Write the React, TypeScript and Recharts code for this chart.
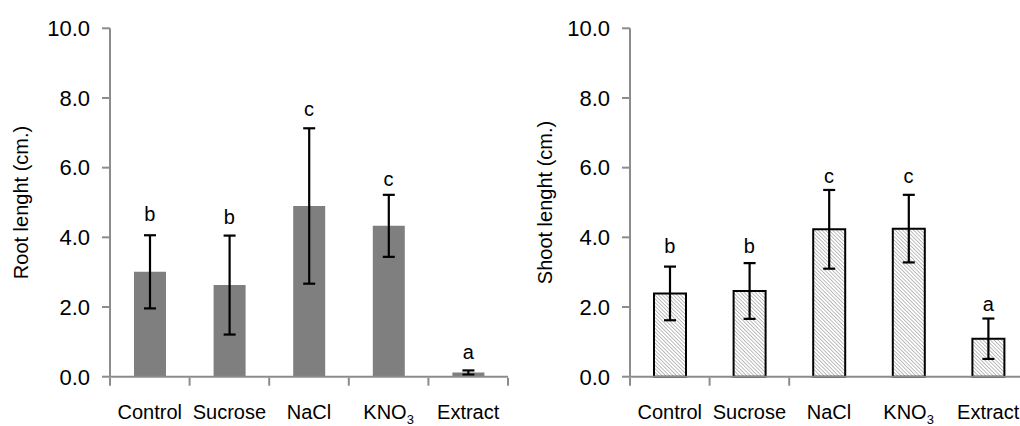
import React from 'react';
import { ComposedChart, Bar, Line, XAxis, YAxis, ErrorBar, LabelList } from 'recharts';

const categories = ['Control', 'Sucrose', 'NaCl', 'KNO3', 'Extract'];
const rootMean = [3.01, 2.63, 4.9, 4.33, 0.12];
const rootErr = [1.05, 1.42, 2.23, 0.89, 0.06];
const rootLetters = ['b', 'b', 'c', 'c', 'a'];
const rootLetterPos = [4.48, 4.37, 7.49, 5.46, 0.5];
const shootMean = [2.39, 2.46, 4.23, 4.25, 1.09];
const shootErr = [0.77, 0.8, 1.13, 0.97, 0.58];
const shootLetters = ['b', 'b', 'c', 'c', 'a'];
const shootLetterPos = [3.56, 3.56, 5.55, 5.55, 1.89];
const yTicks = [0, 2, 4, 6, 8, 10];
const leftEdgeTicks = [0, 1, 2, 3, 4, 5];
const rightEdgeTicks = [0, 1, 2];

const rootData = categories.map((c, i) => ({
  name: c,
  idx: i,
  mean: rootMean[i],
  err: rootErr[i],
  letter: rootLetters[i],
  pos: rootLetterPos[i],
}));
const shootData = categories.map((c, i) => ({
  name: c,
  idx: i,
  mean: shootMean[i],
  err: shootErr[i],
  letter: shootLetters[i],
  pos: shootLetterPos[i],
}));

const FONT = '"Liberation Sans", Arial, Helvetica, sans-serif';
const AXIS = '#8c8c8c';

function CatTick(props: any) {
  const { x, y, payload } = props;
  const v = String(payload.value);
  if (v === 'KNO3') {
    return (
      <text x={x} y={y} dy="0.71em" textAnchor="middle" fontSize={20} fontFamily={FONT} fill="#000">
        <tspan>KNO</tspan>
        <tspan fontSize={13} dy={5}>3</tspan>
      </text>
    );
  }
  return (
    <text x={x} y={y} dy="0.71em" textAnchor="middle" fontSize={20} fontFamily={FONT} fill="#000">
      {v}
    </text>
  );
}

function EmptyTick() {
  return <g />;
}

function Panel(props: {
  data: any[];
  width: number;
  yAxisWidth: number;
  labelOffset: number;
  label: string;
  edgeTicks: number[];
  hatched: boolean;
}) {
  const { data, width, yAxisWidth, labelOffset, label, edgeTicks, hatched } = props;
  return (
    <ComposedChart
      width={width}
      height={426}
      data={data}
      margin={{ top: 28.3, right: 2, bottom: 47.3, left: 0 }}
    >
      <defs>
        <pattern id="hatch" patternUnits="userSpaceOnUse" width={2.6} height={2.6} patternTransform="rotate(-45)">
          <rect x={0} y={0} width={2.6} height={2.6} fill="#fff" />
          <line x1={0} y1={0} x2={0} y2={2.6} stroke="#6e6e6e" strokeWidth={0.9} />
        </pattern>
      </defs>
      <XAxis
        dataKey="name"
        height={1}
        axisLine={{ stroke: AXIS, strokeWidth: 2 }}
        tickLine={false}
        tickSize={8}
        tickMargin={20}
        tick={<CatTick />}
        interval={0}
      />
      <XAxis
        xAxisId="edge"
        dataKey="idx"
        type="number"
        domain={[0, 5]}
        allowDataOverflow
        ticks={edgeTicks}
        interval={0}
        height={1}
        axisLine={false}
        tickLine={{ stroke: AXIS, strokeWidth: 2 }}
        tickSize={8}
        tick={<EmptyTick />}
      />
      <YAxis
        type="number"
        domain={[0, 10]}
        ticks={yTicks}
        width={yAxisWidth}
        axisLine={{ stroke: AXIS, strokeWidth: 2 }}
        tickLine={{ stroke: AXIS, strokeWidth: 2 }}
        tickSize={8}
        tickMargin={12}
        tickFormatter={(v: number) => v.toFixed(1)}
        tick={{ fontSize: 22, fontFamily: FONT, fill: '#000' }}
        label={{
          value: label,
          angle: -90,
          position: 'insideLeft',
          offset: labelOffset,
          style: { textAnchor: 'middle', fontSize: 20, fontFamily: FONT, fill: '#000' },
        }}
      />
      <Bar
        dataKey="mean"
        barSize={32}
        fill={hatched ? 'url(#hatch)' : '#7f7f7f'}
        stroke={hatched ? '#000' : 'none'}
        strokeWidth={hatched ? 2 : 0}
        isAnimationActive={false}
      >
        <ErrorBar dataKey="err" width={6} stroke="#000" strokeWidth={2.2} direction="y" />
      </Bar>
      <Line
        dataKey="pos"
        stroke="none"
        dot={false}
        activeDot={false}
        legendType="none"
        isAnimationActive={false}
      >
        <LabelList
          dataKey="letter"
          position="top"
          offset={0}
          fontSize={20}
          fontFamily={FONT}
          fill="#000"
        />
      </Line>
    </ComposedChart>
  );
}

export default function App() {
  return (
    <div
      style={{
        position: 'fixed',
        left: 0,
        top: 0,
        width: 1020,
        height: 426,
        overflow: 'hidden',
        background: '#fff',
      }}
    >
      <div style={{ position: 'absolute', left: 0, top: 0 }}>
        <Panel
          data={rootData}
          width={510}
          yAxisWidth={110}
          labelOffset={20.5}
          label="Root lenght (cm.)"
          edgeTicks={leftEdgeTicks}
          hatched={false}
        />
      </div>
      <div style={{ position: 'absolute', left: 510, top: 0 }}>
        <Panel
          data={shootData}
          width={520}
          yAxisWidth={120}
          labelOffset={35}
          label="Shoot lenght (cm.)"
          edgeTicks={rightEdgeTicks}
          hatched={true}
        />
      </div>
    </div>
  );
}
